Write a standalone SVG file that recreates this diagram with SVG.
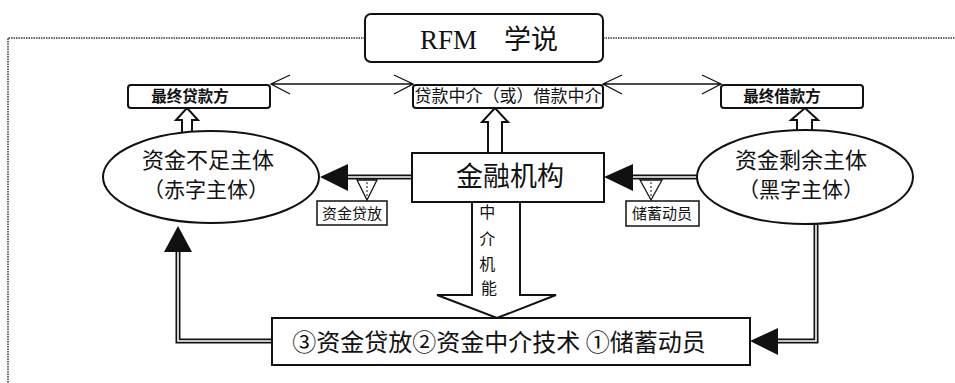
<svg xmlns="http://www.w3.org/2000/svg" width="955" height="383" viewBox="0 0 955 383">
<style>
.cjk{font-family:"Noto Sans CJK SC","Liberation Sans",sans-serif;fill:#111;}
.box{fill:#fff;stroke:#111;stroke-width:2;}
.thin{fill:none;stroke:#111;stroke-width:1.3;}
.dbl-out{fill:none;stroke:#111;stroke-width:5;}
.dbl-in{fill:none;stroke:#fff;stroke-width:1.6;}
.frame{fill:none;stroke:#333;stroke-width:1.5;stroke-dasharray:1.5 1;}
.head{fill:#111;stroke:none;}
.hollow{fill:#fff;stroke:#111;stroke-width:2;}
</style>
<rect width="955" height="383" fill="#fff"/>
<g id="frame">
<path class="frame" d="M365,38 H8 V383"/>
<path class="frame" d="M603,38 H955"/>
</g>
<g id="title">
<rect class="box" x="365" y="14" width="238" height="48" rx="6"/>
<text x="489" y="49" text-anchor="middle" style="font-family:'Liberation Serif','Noto Sans CJK SC',serif;font-size:27px;fill:#111">RFM　学说</text>
</g>
<g id="connectors">
<path class="thin" d="M271,84 H413 M290,75 L271,84 L290,94 M394,75 L413,84 L394,94"/>
<path class="thin" d="M603,84 H721 M622,75 L603,84 L622,94 M702,75 L721,84 L702,94"/>
<path class="hollow" d="M182,132 V120 H176 L187,108 L198,120 H192 V132"/>
<path class="hollow" d="M488,153 V122 H482 L495,108 L508,122 H502 V153"/>
<path class="hollow" d="M797,132 V120 H791 L805,108 L818,120 H812 V132"/>
<path class="dbl-out" d="M412,177 H345"/>
<path class="dbl-in" d="M412,177 H345"/>
<polygon class="head" points="320,177 348,164 348,191"/>
<path d="M357,180 L377,180 L367,200 Z" fill="#fff" stroke="#111" stroke-width="1.3"/>
<path d="M367,182 V198" stroke="#111" stroke-width="1" stroke-dasharray="2 2"/>
<path class="dbl-out" d="M697,177 H630"/>
<path class="dbl-in" d="M697,177 H630"/>
<polygon class="head" points="604,177 633,164 633,191"/>
<path d="M640,180 L662,180 L651,200 Z" fill="#fff" stroke="#111" stroke-width="1.3"/>
<path d="M651,182 V198" stroke="#111" stroke-width="1" stroke-dasharray="2 2"/>
<path class="dbl-out" d="M272,341 H178 V250"/>
<path class="dbl-in" d="M272,341 H178 V250"/>
<polygon class="head" points="178,226 164,252 192,252"/>
<path class="dbl-out" d="M816,225 V341 H775"/>
<path class="dbl-in" d="M816,225 V341 H775"/>
<polygon class="head" points="750,341 778,328 778,355"/>
<path class="hollow" d="M472,202 V295 H437 L497,318 L556,295 H520 V202"/>
<text class="cjk" style="font-size:16px" text-anchor="middle">
<tspan x="489" y="218">中</tspan>
<tspan x="489" y="245">介</tspan>
<tspan x="489" y="270">机</tspan>
<tspan x="489" y="294">能</tspan>
</text>
</g>
<g id="lender-top">
<rect class="box" x="128" y="85" width="142" height="23" rx="3"/>
<text class="cjk" x="190" y="102" text-anchor="middle" style="font-size:15.5px;font-weight:bold">最终贷款方</text>
</g>
<g id="intermediary-top">
<rect class="box" x="413" y="85" width="190" height="23" rx="3"/>
<text class="cjk" x="508" y="102" text-anchor="middle" style="font-size:17px">贷款中介（或）借款中介</text>
</g>
<g id="borrower-top">
<rect class="box" x="721" y="85" width="142" height="23" rx="3"/>
<text class="cjk" x="782" y="102" text-anchor="middle" style="font-size:15.5px;font-weight:bold">最终借款方</text>
</g>
<g id="deficit">
<ellipse class="box" cx="211" cy="177" rx="108" ry="46"/>
<text class="cjk" x="208" y="168" text-anchor="middle" style="font-size:22px">资金不足主体</text>
<text class="cjk" x="206" y="197" text-anchor="middle" style="font-size:21px">（赤字主体）</text>
</g>
<g id="surplus">
<ellipse class="box" cx="805" cy="177" rx="108" ry="47"/>
<text class="cjk" x="801" y="168" text-anchor="middle" style="font-size:22px">资金剩余主体</text>
<text class="cjk" x="801" y="197" text-anchor="middle" style="font-size:21px">（黑字主体）</text>
</g>
<g id="bank">
<rect class="box" x="412" y="153" width="192" height="49"/>
<text class="cjk" x="510" y="186" text-anchor="middle" style="font-size:27px">金融机构</text>
</g>
<g id="lending-label">
<rect x="317" y="201" width="70" height="24" fill="#fff" stroke="#111" stroke-width="1.5"/>
<text class="cjk" x="352" y="219" text-anchor="middle" style="font-size:15px">资金贷放</text>
</g>
<g id="savings-label">
<rect x="626" y="201" width="73" height="25" fill="#fff" stroke="#111" stroke-width="1.5"/>
<text class="cjk" x="662" y="219" text-anchor="middle" style="font-size:15px">储蓄动员</text>
</g>
<g id="functions">
<rect class="box" x="272" y="318" width="478" height="47"/>
<text class="cjk" x="499" y="351" text-anchor="middle" style="font-size:24px">③资金贷放②资金中介技术 ①储蓄动员</text>
</g>
</svg>
